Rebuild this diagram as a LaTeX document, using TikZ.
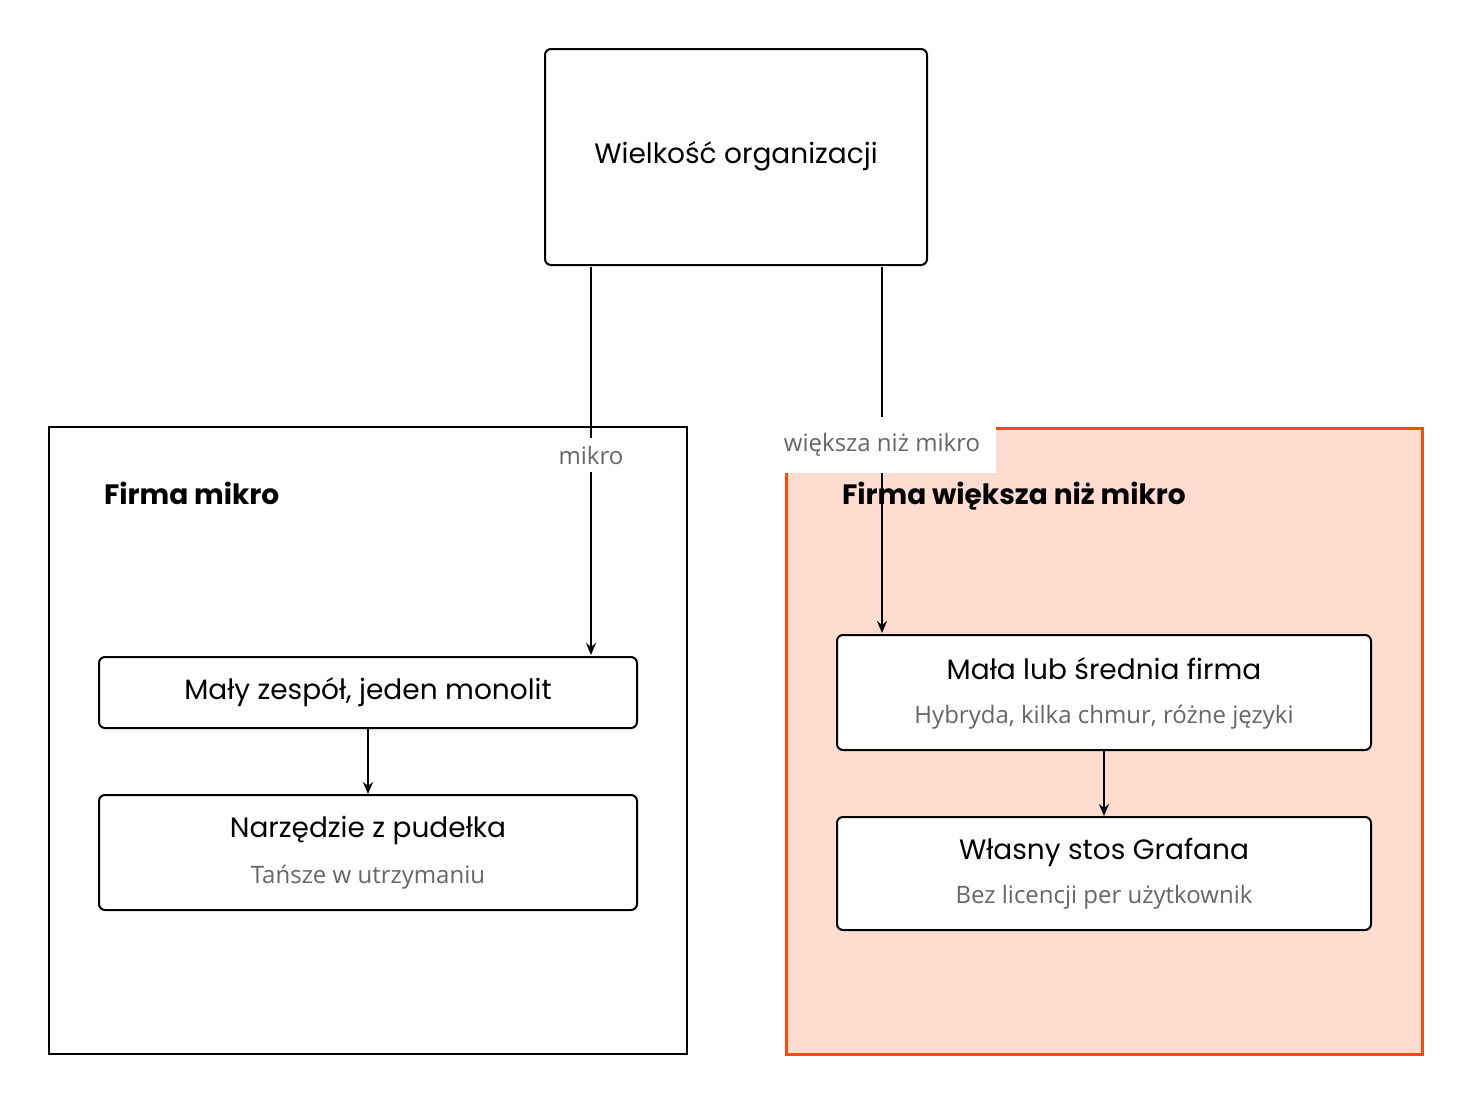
\documentclass[tikz,border=0pt]{standalone}
\usepackage{fontspec}
\setmainfont{Poppins}
\newfontfamily\subf{Open Sans}
\usetikzlibrary{arrows.meta}
\definecolor{orng}{HTML}{FF4A0F}
\definecolor{pinkf}{HTML}{FFDCD0}
\definecolor{gry}{HTML}{666666}
\begin{document}
\begin{tikzpicture}[x=0.5pt,y=-0.5pt,
  box/.style={draw=black,line width=1pt,rounded corners=3pt,fill=white},
  ttl/.style={font=\fontsize{14}{16}\selectfont},
  sub/.style={font=\subf\fontsize{12}{14}\selectfont,text=gry},
  arr/.style={line width=1pt,-{Stealth[length=6pt,width=5pt]}},
  lbl/.style={fill=white,font=\subf\fontsize{12}{14}\selectfont,text=gry,inner sep=4pt}]
\useasboundingbox (0,0) rectangle (1472,1104);
\draw[line width=1pt] (49,427) rectangle (687,1054);
\draw[draw=orng,fill=pinkf,line width=1.5pt] (786,428) rectangle (1422,1054);
\node[ttl,anchor=west,font=\fontsize{14}{16}\selectfont\bfseries] (fm) at (97,493) {Firma mikro};
\node[ttl,anchor=west,font=\fontsize{14}{16}\selectfont\bfseries] (fw) at (835,496) {Firma większa niż mikro};
\draw[box] (545,49) rectangle (927,265);
\node[ttl] (top) at (736,156) {Wielkość organizacji};
\draw[box] (99,657) rectangle (637,728);
\node[ttl] (a) at (368,692) {Mały zespół, jeden monolit};
\draw[box] (99,795) rectangle (637,910);
\node[ttl] (b) at (368,830) {Narzędzie z pudełka};
\node[sub] (bs) at (368,877) {Tańsze w utrzymaniu};
\draw[box] (837,635) rectangle (1371,750);
\node[ttl] (c) at (1104,669) {Mała lub średnia firma};
\node[sub] (cs) at (1104,717) {Hybryda, kilka chmur, różne języki};
\draw[box] (837,817) rectangle (1371,930);
\node[ttl] (d) at (1104,852) {Własny stos Grafana};
\node[sub] (ds) at (1104,897) {Bez licencji per użytkownik};
\coordinate (t1) at (591,267);
\coordinate (a1) at (591,655);
\coordinate (t2) at (882,267);
\coordinate (c1) at (882,633);
\draw[arr] (t1) -- (a1);
\draw[arr] (t2) -- (c1);
\node[lbl] (l1) at (591,455) {mikro};
\node[lbl,inner xsep=8pt,inner ysep=8pt] (l2) at (882,445) {większa niż mikro};
\coordinate (a2) at (368,729);
\coordinate (b1) at (368,794);
\coordinate (c2) at (1104,751);
\coordinate (d1) at (1104,816);
\draw[arr] (a2) -- (b1);
\draw[arr] (c2) -- (d1);
\end{tikzpicture}
\end{document}
